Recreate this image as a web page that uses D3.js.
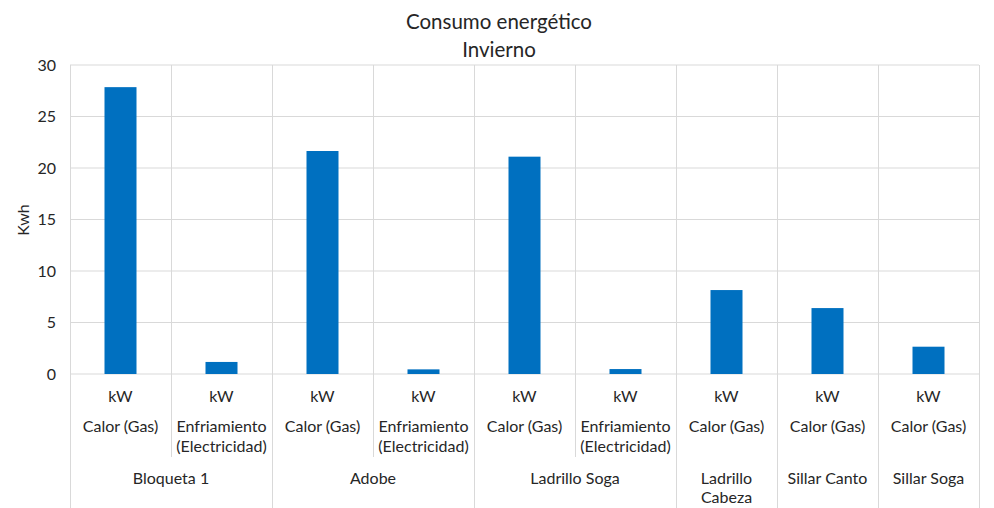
<!DOCTYPE html>
<html><head><meta charset="utf-8">
<script src="https://cdn.jsdelivr.net/npm/d3@7"></script>
<style>body{margin:0;background:#fff}svg{display:block}text{font-family:Lato,"Open Sans",sans-serif;fill:#262626}</style>
</head><body><svg id="c" width="994" height="508"></svg>
<script>
const units = ["kW","kW","kW","kW","kW","kW","kW","kW","kW"];
const types = ["Calor (Gas)","Enfriamiento (Electricidad)","Calor (Gas)","Enfriamiento (Electricidad)","Calor (Gas)","Enfriamiento (Electricidad)","Calor (Gas)","Calor (Gas)","Calor (Gas)"];
const groups = ["Bloqueta 1","Adobe","Ladrillo Soga","Ladrillo Cabeza","Sillar Canto","Sillar Soga"];
const groupSizes = [2,2,2,1,1,1];
const values = [27.85,1.17,21.65,0.45,21.1,0.48,8.15,6.4,2.65];
const yTicks = [0,5,10,15,20,25,30];

const svg = d3.select("#c");
const L=70,R=979,T=65,B=374;
const idx = d3.range(values.length);
const x = d3.scaleBand().domain(idx).range([L,R]).paddingInner(0).paddingOuter(0);
const y = d3.scaleLinear().domain([0,30]).range([B,T]);
const grid="#d9d9d9";
const fs="16px";

svg.append("g").selectAll("line").data(yTicks).join("line")
 .attr("x1",L).attr("x2",R).attr("y1",d=>y(d)).attr("y2",d=>y(d))
 .attr("stroke",grid).attr("stroke-width",1);
const bounds=[0]; groupSizes.reduce((a,s)=>{bounds.push(a+s);return a+s;},0);
idx.concat([values.length]).forEach(i=>{
  const xx = i<values.length ? x(i) : R;
  const isGroup = bounds.includes(i);
  svg.append("line").attr("x1",xx+0.5).attr("x2",xx+0.5).attr("y1",T).attr("y2",isGroup?508:457)
   .attr("stroke",grid).attr("stroke-width",1);
});
svg.append("g").selectAll("text").data(yTicks).join("text")
 .attr("x",56).attr("y",d=>y(d)).attr("dy","0.35em").attr("text-anchor","end")
 .style("font-size",fs).text(d=>d);
const bw=32;
svg.append("g").selectAll("rect").data(values).join("rect")
 .attr("x",(d,i)=>x(i)+x.bandwidth()/2-bw/2).attr("width",bw)
 .attr("y",d=>y(d)).attr("height",d=>y(0)-y(d)).attr("fill","#0070c0");
svg.append("g").selectAll("text").data(units).join("text")
 .attr("x",(d,i)=>x(i)+x.bandwidth()/2).attr("y",396).attr("dy","0.35em")
 .attr("text-anchor","middle").style("font-size",fs).text(d=>d);
function wrapText(sel, lines, cx, cy, lh){
  lines.forEach((ln,k)=>sel.append("text").attr("x",cx).attr("y",cy+k*lh).attr("dy","0.35em")
   .attr("text-anchor","middle").style("font-size",fs).text(ln));
}
const g1=svg.append("g");
types.forEach((t,i)=>{
  const lines = t.startsWith("Enfriamiento") ? ["Enfriamiento","(Electricidad)"] : [t];
  wrapText(g1, lines, x(i)+x.bandwidth()/2, 426.7, 20);
});
const g2=svg.append("g");
groups.forEach((gname,j)=>{
  const a=bounds[j], b=bounds[j+1];
  const cx=(x(a)+(b<values.length?x(b):R))/2;
  const lines = gname==="Ladrillo Cabeza" ? ["Ladrillo","Cabeza"] : [gname];
  wrapText(g2, lines, cx, 478, 19.5);
});
svg.append("text").attr("x",499).attr("y",22).attr("dy","0.35em").attr("text-anchor","middle")
 .style("font-size","20.5px").text("Consumo energético");
svg.append("text").attr("x",499).attr("y",50).attr("dy","0.35em").attr("text-anchor","middle")
 .style("font-size","20.5px").text("Invierno");
svg.append("text").attr("transform","translate(23,220) rotate(-90)").attr("dy","0.35em")
 .attr("text-anchor","middle").style("font-size",fs).text("Kwh");
</script></body></html>
